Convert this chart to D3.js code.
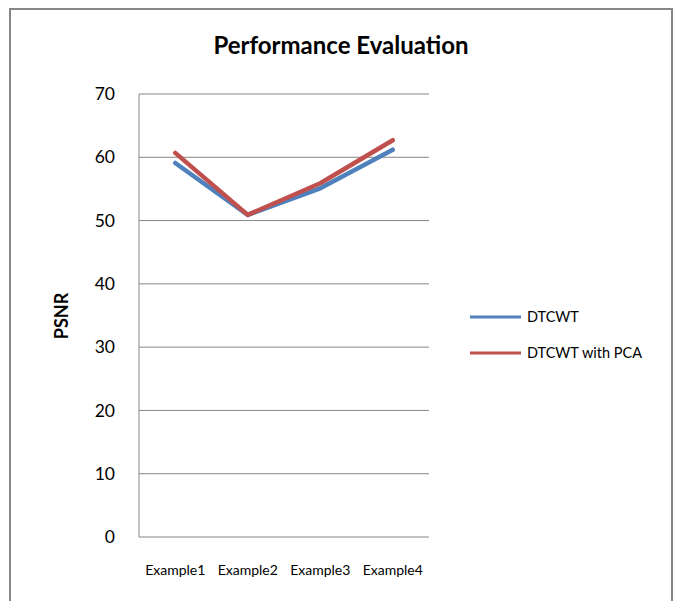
<!DOCTYPE html>
<html><head><meta charset="utf-8">
<script src="https://cdn.jsdelivr.net/npm/d3@7"></script>
<style>body{margin:0;background:#fff}svg{display:block}text{font-family:Lato,"Open Sans",sans-serif}</style>
</head><body><svg id="c" width="678" height="601"></svg>
<script>
const categories = ["Example1","Example2","Example3","Example4"];
const dtcwt = [59.1, 50.9, 55.1, 61.2];
const dtcwtPca = [60.7, 50.9, 55.9, 62.7];
const yTicks = [0,10,20,30,40,50,60,70];
const seriesNames = ["DTCWT","DTCWT with PCA"];
const colors = ["#4F81BD","#C0504D"];

const svg = d3.select("#c");
svg.append("rect").attr("x",10).attr("y",9).attr("width",662).attr("height",600)
  .attr("fill","#fff").attr("stroke","#878787").attr("stroke-width",2);

const x = d3.scaleBand().domain(categories).range([139,429]);
const y = d3.scaleLinear().domain([0,70]).range([537,94]);

svg.append("g").selectAll("line").data(yTicks).join("line")
  .attr("x1",139).attr("x2",429).attr("y1",d=>y(d)).attr("y2",d=>y(d))
  .attr("stroke","#868686").attr("stroke-width",1);
svg.append("line").attr("x1",139).attr("x2",139).attr("y1",y(70)).attr("y2",y(0))
  .attr("stroke","#868686");

const ya = svg.append("g").attr("transform","translate(139,0)")
  .call(d3.axisLeft(y).tickValues(yTicks).tickSize(0).tickPadding(24));
ya.select(".domain").remove();
ya.selectAll("text").attr("font-size",17.5).attr("fill","#000").attr("font-family","Lato,sans-serif");

const xa = svg.append("g").attr("transform","translate(0,537)")
  .call(d3.axisBottom(x).tickSize(0).tickPadding(28));
xa.select(".domain").remove();
xa.selectAll("text").attr("font-size",14).attr("fill","#000").attr("font-family","Lato,sans-serif");

const line = d3.line().x((d,i)=>x(categories[i])+x.bandwidth()/2).y(d=>y(d));
[dtcwt, dtcwtPca].forEach((s,i)=>{
  svg.append("path").attr("d",line(s)).attr("fill","none").attr("stroke",colors[i])
    .attr("stroke-width",4.5).attr("stroke-linejoin","round").attr("stroke-linecap","round");
});

svg.append("text").attr("x",341).attr("y",54).attr("text-anchor","middle")
  .attr("font-size",24).attr("font-weight","bold").text("Performance Evaluation");
svg.append("text").attr("transform","translate(68,316) rotate(-90)").attr("text-anchor","middle")
  .attr("font-size",18).attr("font-weight","bold").text("PSNR");

const lg = svg.append("g");
seriesNames.forEach((n,i)=>{
  const yy = 317 + i*36;
  lg.append("line").attr("x1",470).attr("x2",521).attr("y1",yy).attr("y2",yy)
    .attr("stroke",colors[i]).attr("stroke-width",3);
  lg.append("text").attr("x",527).attr("y",yy+5).attr("font-size",14.5).text(n);
});
</script></body></html>
